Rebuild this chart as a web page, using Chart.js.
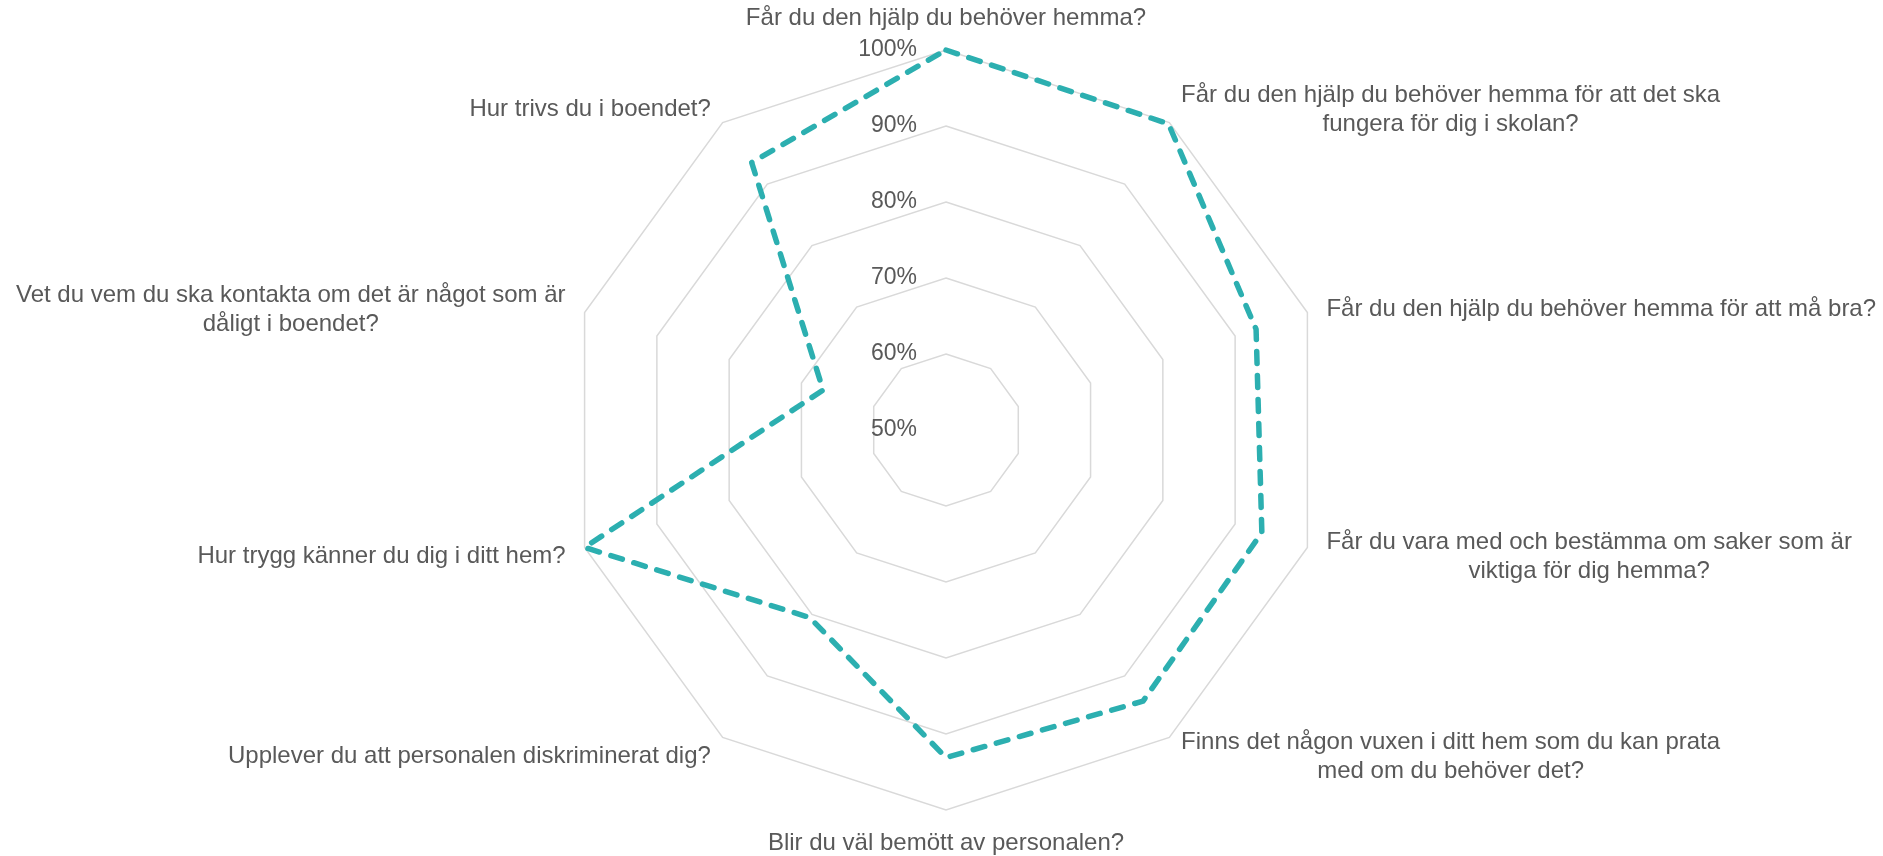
<!DOCTYPE html>
<html>
<head>
<meta charset="utf-8">
<script src="https://cdn.jsdelivr.net/npm/chart.js"></script>
<style>
  html, body { margin: 0; padding: 0; background: #fff; }
  canvas { display: block; }
</style>
</head>
<body>
<canvas id="radar" width="1883" height="856"></canvas>
<script>
// questions, clockwise from the top (each entry = the lines of the label)
const categories = [
    ['Får du den hjälp du behöver hemma?'],
    ['Får du den hjälp du behöver hemma för att det ska', 'fungera för dig i skolan?'],
    ['Får du den hjälp du behöver hemma för att må bra?'],
    ['Får du vara med och bestämma om saker som är', 'viktiga för dig hemma?'],
    ['Finns det någon vuxen i ditt hem som du kan prata', 'med om du behöver det?'],
    ['Blir du väl bemött av personalen?'],
    ['Upplever du att personalen diskriminerat dig?'],
    ['Hur trygg känner du dig i ditt hem?'],
    ['Vet du vem du ska kontakta om det är något som är', 'dåligt i boendet?'],
    ['Hur trivs du i boendet?']
];

// share of positive answers, percent
const values = [100, 99.8, 92.9, 93.7, 94.1, 93.1, 80.5, 100, 67.0, 93.5];

// radial axis ticks (percent)
const tickValues = [50, 60, 70, 80, 90, 100];

const textColor = '#595959';
const fontFamily = '"Liberation Sans", Arial, sans-serif';

// Draws the % labels left of the vertical axis and the question labels
const labelsPlugin = {
    id: 'labelsPlugin',
    afterDraw(chart) {
        const ctx = chart.ctx;
        const scale = chart.scales.r;
        ctx.save();
        ctx.fillStyle = textColor;

        // tick labels
        ctx.font = '23px ' + fontFamily;
        ctx.textAlign = 'right';
        ctx.textBaseline = 'middle';
        tickValues.forEach(v => {
            const y = scale.yCenter - scale.getDistanceFromCenterForValue(v);
            ctx.fillText(v + '%', scale.xCenter - 29, y);
        });

        // question labels
        ctx.font = '24px ' + fontFamily;
        const n = categories.length;
        const lineH = 29;
        ctx.textAlign = 'center';
        categories.forEach((lines, i) => {
            const p = scale.getPointPosition(i, scale.drawingArea + 20);
            const deg = i * 360 / n;
            const h = lines.length * lineH;
            const maxW = Math.max(...lines.map(t => ctx.measureText(t).width));
            let top, cx;
            if (deg === 0) {
                top = p.y - h + 3; cx = p.x;
            } else if (deg === 180) {
                top = p.y - 1; cx = p.x;
            } else if (deg < 180) {
                top = p.y - h / 2 + 3; cx = p.x + maxW / 2;
            } else {
                top = p.y - h / 2 + 3; cx = p.x - maxW / 2;
            }
            lines.forEach((t, k) => {
                ctx.fillText(t, cx, top + lineH * k + lineH / 2);
            });
        });
        ctx.restore();
    }
};

const config = {
    type: 'radar',
    data: {
        labels: categories,
        datasets: [{
            data: values,
            borderColor: '#2cafb0',
            borderWidth: 5.5,
            borderDash: [12, 12],
            borderCapStyle: 'round',
            borderJoinStyle: 'round',
            backgroundColor: 'transparent',
            fill: false,
            tension: 0,
            pointRadius: 0,
            pointHoverRadius: 0
        }]
    },
    options: {
        responsive: false,
        animation: false,
        layout: {
            padding: { top: 50, bottom: 46, left: 9, right: 0 }
        },
        plugins: {
            legend: { display: false },
            tooltip: { enabled: false }
        },
        scales: {
            r: {
                min: tickValues[0],
                max: tickValues[tickValues.length - 1],
                ticks: { stepSize: 10, display: false },
                grid: { color: '#d9d9d9', lineWidth: 1.5 },
                angleLines: { display: false },
                pointLabels: { display: false }
            }
        }
    },
    plugins: [labelsPlugin]
};

const myChart = new Chart(document.getElementById('radar'), config);
</script>
</body>
</html>
